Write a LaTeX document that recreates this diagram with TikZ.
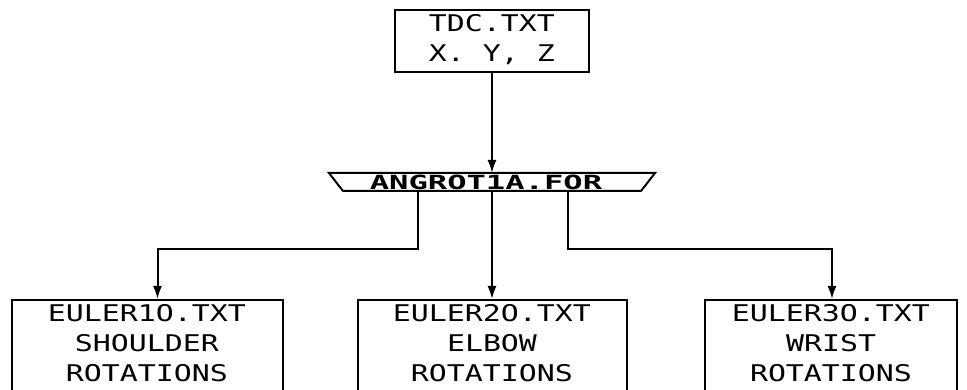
\documentclass[tikz,border=0pt]{standalone}
\usepackage{fontspec}
\usetikzlibrary{arrows.meta,calc}
\newfontfamily\plotfont[FakeStretch=1.3]{DejaVu Sans Mono}
\newfontfamily\plotbold[FakeStretch=1.65]{DejaVu Sans Mono Bold}
\begin{document}
\begin{tikzpicture}[x=1pt,y=-1pt,line width=2pt,
  box/.style={draw,line width=2pt,inner sep=0pt},
  lbl/.style={align=center,inner sep=0pt,font=\plotfont\fontsize{23}{30}\selectfont},
  arr/.style={-{Latex[length=13pt,width=9pt]},line width=2pt}]
\useasboundingbox (0,0) rectangle (967,390);
\clip (0,0) rectangle (967,390);
% top box
\node[box,minimum width=194pt,minimum height=62pt] (tdc) at (492,41) {};
\node[lbl] (tdct) at (492,40) {TDC.TXT\\X. Y, Z};
% trapezoid
\node[inner sep=0pt,minimum width=296pt,minimum height=16pt] (ang) at (492,182) {};
\draw[line width=2pt] ([xshift=-14pt]ang.north west) -- ([xshift=14pt]ang.north east) -- (ang.south east) -- (ang.south west) -- cycle;
\node[inner sep=0pt,font=\plotbold\fontsize{19.5}{19.5}\selectfont] (angt) at (486,182.5) {ANGROT1A.FOR};
% bottom boxes
\node[box,minimum width=271pt,minimum height=100pt] (b1) at (147.5,350) {};
\node[box,minimum width=269pt,minimum height=100pt] (b2) at (492,350) {};
\node[box,minimum width=252pt,minimum height=100pt] (b3) at (831,350) {};
\node[lbl] (t1) at (147,343) {EULER1O.TXT\\SHOULDER\\ROTATIONS};
\node[lbl] (t2) at (492,343) {EULER2O.TXT\\ELBOW\\ROTATIONS};
\node[lbl] (t3) at (831,343) {EULER3O.TXT\\WRIST\\ROTATIONS};
% connectors
\draw[arr] (tdc.south) -- (ang.north);
\draw[arr] ([xshift=-74pt]ang.south) |- ([xshift=10pt,yshift=50pt]b1.north) -- ([xshift=10pt]b1.north);
\draw[arr] (ang.south) -- (b2.north);
\draw[arr] ([xshift=76pt]ang.south) |- ([xshift=1pt,yshift=50pt]b3.north) -- ([xshift=1pt]b3.north);
\end{tikzpicture}
\end{document}
